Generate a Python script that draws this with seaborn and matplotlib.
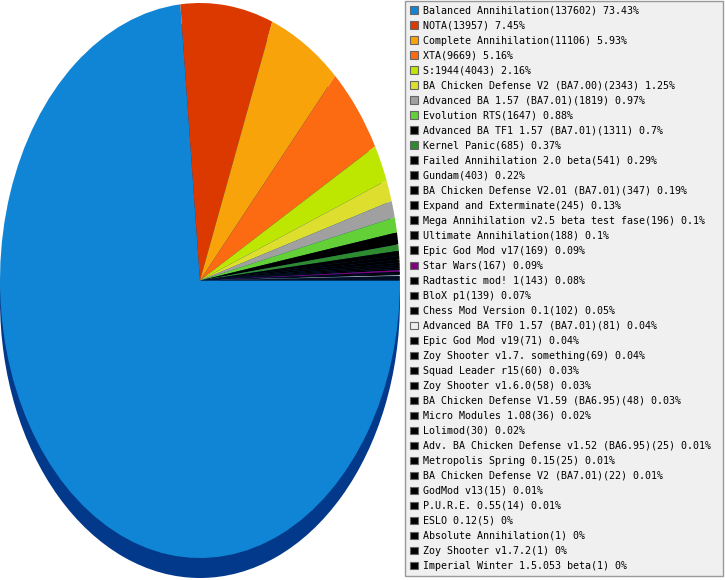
import matplotlib
matplotlib.use("Agg")
import matplotlib.pyplot as plt
from matplotlib.patches import Patch
import seaborn as sns

mods = [
    "Balanced Annihilation", "NOTA", "Complete Annihilation", "XTA", "S:1944",
    "BA Chicken Defense V2 (BA7.00)", "Advanced BA 1.57 (BA7.01)", "Evolution RTS",
    "Advanced BA TF1 1.57 (BA7.01)", "Kernel Panic", "Failed Annihilation 2.0 beta",
    "Gundam", "BA Chicken Defense V2.01 (BA7.01)", "Expand and Exterminate",
    "Mega Annihilation v2.5 beta test fase", "Ultimate Annihilation", "Epic God Mod v17",
    "Star Wars", "Radtastic mod! 1", "BloX p1", "Chess Mod Version 0.1",
    "Advanced BA TF0 1.57 (BA7.01)", "Epic God Mod v19", "Zoy Shooter v1.7. something",
    "Squad Leader r15", "Zoy Shooter v1.6.0", "BA Chicken Defense V1.59 (BA6.95)",
    "Micro Modules 1.08", "Lolimod", "Adv. BA Chicken Defense v1.52 (BA6.95)",
    "Metropolis Spring 0.15", "BA Chicken Defense V2 (BA7.01)", "GodMod v13",
    "P.U.R.E. 0.55", "ESLO 0.12", "Absolute Annihilation", "Zoy Shooter v1.7.2",
    "Imperial Winter 1.5.053 beta",
]
counts = [
    137602, 13957, 11106, 9669, 4043, 2343, 1819, 1647, 1311, 685, 541, 403, 347,
    245, 196, 188, 169, 167, 143, 139, 102, 81, 71, 69, 60, 58, 48, 36, 30, 25,
    25, 22, 15, 14, 5, 1, 1, 1,
]
percents = [
    73.43, 7.45, 5.93, 5.16, 2.16, 1.25, 0.97, 0.88, 0.7, 0.37, 0.29, 0.22, 0.19,
    0.13, 0.1, 0.1, 0.09, 0.09, 0.08, 0.07, 0.05, 0.04, 0.04, 0.04, 0.03, 0.03,
    0.03, 0.02, 0.02, 0.01, 0.01, 0.01, 0.01, 0.01, 0, 0, 0, 0,
]

_head = ["#1185d5", "#dc3900", "#f8a30a", "#fc6a12", "#bde600", "#dede2e",
         "#a0a0a0", "#62d036", "#000000", "#2e8b2e"]
colors = sns.color_palette(_head + ["#000000"] * (len(counts) - len(_head)))
colors[17] = "#800080"   # Star Wars
colors[21] = "#eeeeee"   # Advanced BA TF0

sns.set_theme(style="white")
plt.rcParams["font.family"] = ["DejaVu Sans Mono", "DejaVu Sans"]

fig = plt.figure(figsize=(7.25, 5.8), dpi=100)

# pie area: 400 px wide, full height; top face ellipse rx=200, ry=277.5
ax = fig.add_axes([0, 0, 400 / 725, 1])
ry_px = 277.5
cy_px = 280.5
shadow = 20 / ry_px

ax.pie([1], colors=["#03398a"], center=(0, -shadow), radius=1,
       wedgeprops=dict(linewidth=0))
ax.pie(counts, colors=colors, startangle=0, counterclock=False, radius=1,
       wedgeprops=dict(linewidth=0))
ax.set_aspect("auto")
ax.set_xlim(-1, 1)
ax.set_ylim(-(580 - cy_px) / ry_px, cy_px / ry_px)
ax.axis("off")

labels = [f"{m}({c}) {p:g}%" for m, c, p in zip(mods, counts, percents)]
handles = [Patch(facecolor=col, edgecolor="#666666", linewidth=0.8) for col in colors]

leg = fig.legend(handles, labels, loc="upper left",
                 bbox_to_anchor=(405 / 725, 0, 318 / 725, 579 / 580),
                 mode="expand", fontsize=7.2, frameon=True, fancybox=False,
                 facecolor="#f0f0f0", edgecolor="#999999", framealpha=1,
                 handlelength=0.8, handleheight=0.8, handletextpad=0.5,
                 labelspacing=0.5, borderpad=0.48, borderaxespad=0,
                 labelcolor="black")
leg.get_frame().set_linewidth(1.0)

fig.savefig("out.png", dpi=100)
